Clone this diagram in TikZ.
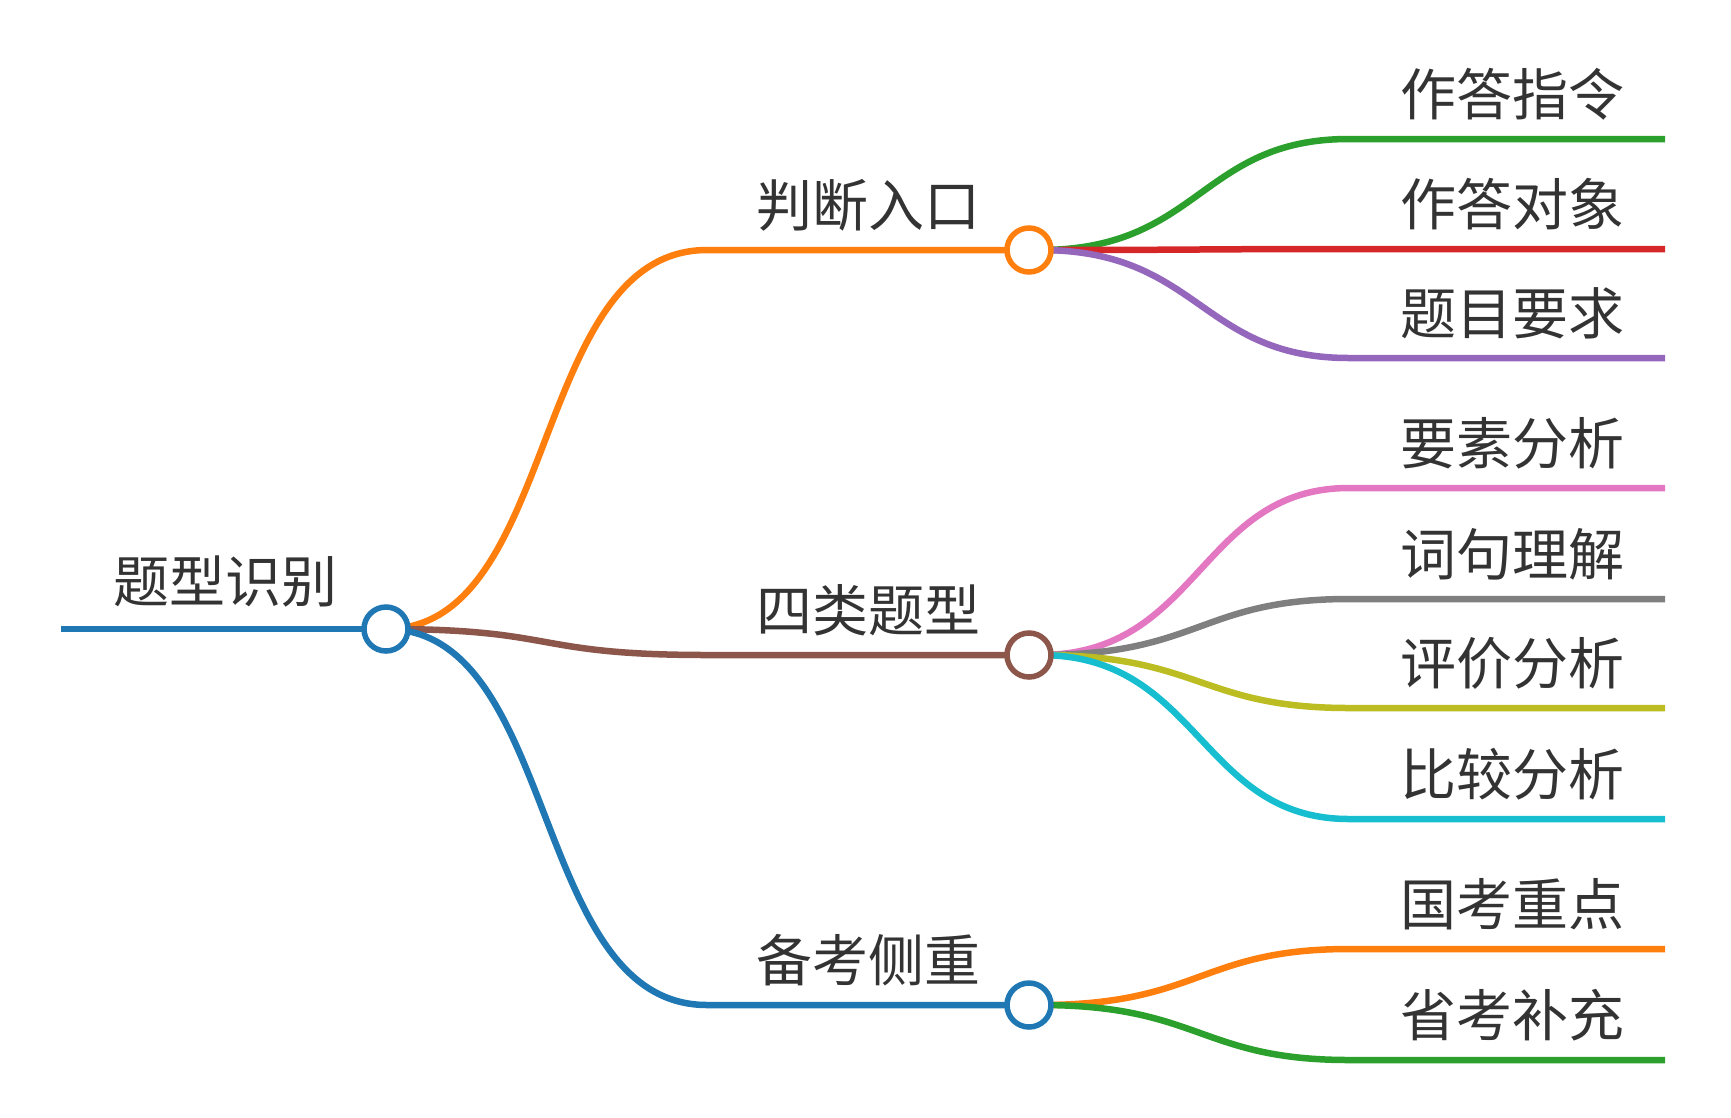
\documentclass[tikz,border=0pt]{standalone}
\usepackage{fontspec}
\newfontfamily\cjk{Noto Sans CJK SC}
\begin{document}
\begin{tikzpicture}[x=1pt,y=-1pt,
  lbl/.style={font=\cjk\fontsize{56}{60}\selectfont,text=black!80,anchor=base,inner sep=0pt},
  hub/.style={circle,draw,line width=5.5pt,fill=white,minimum size=44pt,inner sep=0pt},
  br/.style={line width=6.5pt}]
\useasboundingbox (0,0) rectangle (1731,1117);
\definecolor{cA}{HTML}{1F77B4}\definecolor{cB}{HTML}{FF7F0E}\definecolor{cC}{HTML}{2CA02C}
\definecolor{cD}{HTML}{D62728}\definecolor{cE}{HTML}{9467BD}\definecolor{cF}{HTML}{8C564B}
\definecolor{cG}{HTML}{E377C2}\definecolor{cH}{HTML}{7F7F7F}\definecolor{cI}{HTML}{BCBD22}
\definecolor{cJ}{HTML}{17BECF}
\coordinate (r0) at (61,629);
\coordinate (a0) at (707,250);\coordinate (b0) at (707,655);\coordinate (c0) at (707,1005);
% root -> level1 curves
\draw[br,cB] (386,629) .. controls (560,629) and (530,250) .. (a0) -- (1029,250);
\draw[br,cF] (386,629) .. controls (560,629) and (530,655) .. (b0) -- (1029,655);
\draw[br,cA] (386,629) .. controls (560,629) and (530,1005) .. (c0) -- (1029,1005);
\draw[br,cA] (r0) -- (386,629);
% level2
\foreach \y/\t/\c in {139/作答指令/cC,249/作答对象/cD,358/题目要求/cE}{
  \draw[br,\c] (1040,250) .. controls (1200,250) and (1200,\y) .. (1349,\y) -- (1665,\y);
  \node[lbl] at (1512,\y-24) {\t};}
\foreach \y/\t/\c in {488/要素分析/cG,599/词句理解/cH,708/评价分析/cI,819/比较分析/cJ}{
  \draw[br,\c] (1040,655) .. controls (1200,655) and (1200,\y) .. (1349,\y) -- (1665,\y);
  \node[lbl] at (1512,\y-24) {\t};}
\foreach \y/\t/\c in {949/国考重点/cB,1060/省考补充/cC}{
  \draw[br,\c] (1040,1005) .. controls (1200,1005) and (1200,\y) .. (1349,\y) -- (1665,\y);
  \node[lbl] at (1512,\y-24) {\t};}
\node[hub,draw=cA] (r) at (386,629) {};
\node[hub,draw=cB] (a) at (1029,250) {};
\node[hub,draw=cF] (b) at (1029,655) {};
\node[hub,draw=cA] (c) at (1029,1005) {};
\node[lbl] (rt) at (225,602) {题型识别};
\node[lbl] (at) at (868,226) {判断入口};
\node[lbl] (bt) at (868,631) {四类题型};
\node[lbl] (ct) at (868,981) {备考侧重};
\end{tikzpicture}
\end{document}
